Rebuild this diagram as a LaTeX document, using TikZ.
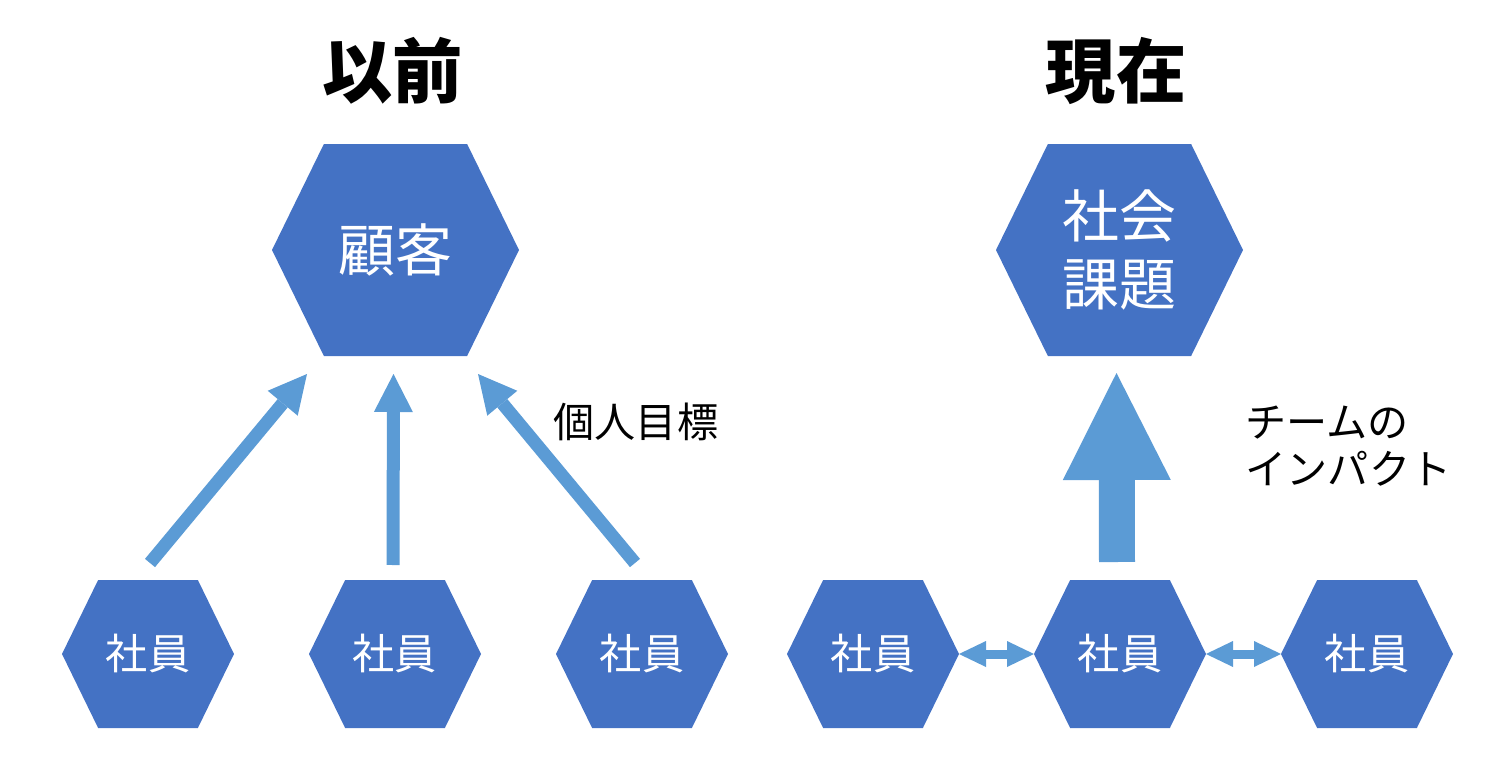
\documentclass[tikz,border=0pt]{standalone}
\usepackage{fontspec}
\setmainfont{Noto Sans CJK JP}
\usetikzlibrary{positioning,arrows.meta,calc}
\definecolor{hexblue}{HTML}{4472C4}
\definecolor{arrowblue}{HTML}{5B9BD5}
\tikzset{
  hexagon/.style={rectangle, inner sep=0pt, outer sep=0pt, text=white, align=center,
    path picture={
      \fill[hexblue] let \p1=(path picture bounding box.south west),
        \p2=(path picture bounding box.north east) in
        (\x1,{(\y1+\y2)/2}) -- ({\x1+0.21*(\x2-\x1)},\y2) -- ({\x1+0.79*(\x2-\x1)},\y2)
        -- (\x2,{(\y1+\y2)/2}) -- ({\x1+0.79*(\x2-\x1)},\y1) -- ({\x1+0.21*(\x2-\x1)},\y1) -- cycle;
    }},
  bighex/.style={hexagon, minimum width=2.47cm, minimum height=2.12cm, font=\fontsize{16.2}{19.4}\selectfont},
  smallhex/.style={hexagon, minimum width=1.72cm, minimum height=1.48cm, font=\fontsize{12}{14}\selectfont},
  title/.style={font=\fontsize{20}{24}\selectfont\bfseries},
  labeltext/.style={font=\fontsize{11.7}{13.4}\selectfont, inner sep=0pt},
  thinarrow/.style={arrowblue, line width=0.13cm, -{Triangle[length=0.38cm,width=0.39cm,line width=0pt]}},
  bigarrow/.style={arrowblue, line width=0.36cm, -{Triangle[length=1.07cm,width=1.08cm,line width=0pt]}},
  linkarrow/.style={arrowblue, line width=0.09cm,
    {Triangle[length=0.27cm,width=0.26cm,line width=0pt]}-{Triangle[length=0.27cm,width=0.26cm,line width=0pt]}}
}
\begin{document}
\begin{tikzpicture}[node distance=0.75cm]
    \useasboundingbox (0,0) rectangle (15,7.67);
    % before
    \node[title] (before) at (3.93,6.96) {以前};
    \node[bighex] (kokyaku) at (3.955,5.17) {顧客};
    \node[smallhex] (e2) at (3.95,1.13) {社員};
    \node[smallhex, left=of e2] (e1) {社員};
    \node[smallhex, right=of e2] (e3) {社員};
    \draw[thinarrow] ($(e1.north)+(0.02,0.17)$) -- ($(kokyaku.south)+(-0.885,-0.18)$);
    \draw[thinarrow] ($(e2.north)+(-0.02,0.15)$) -- ($(kokyaku.south)+(-0.02,-0.18)$);
    \draw[thinarrow] ($(e3.north)+(-0.07,0.17)$) -- ($(kokyaku.south)+(0.825,-0.18)$);
    \node[labeltext, anchor=west] (goal) at (5.53,3.45) {個人目標};
    % now
    \node[title] (now) at (11.16,6.96) {現在};
    \node[bighex] (shakai) at (11.195,5.17) {社会\\課題};
    \node[smallhex] (e5) at (11.20,1.13) {社員};
    \node[smallhex, left=of e5] (e4) {社員};
    \node[smallhex, right=of e5] (e6) {社員};
    \draw[bigarrow] ($(e5.north)+(-0.03,0.18)$) -- ($(shakai.south)+(-0.03,-0.17)$);
    \draw[linkarrow] (e4) -- (e5);
    \draw[linkarrow] (e5) -- (e6);
    \node[labeltext, anchor=west, align=left] (impact) at (12.45,3.21) {チームの\\インパクト};
\end{tikzpicture}
\end{document}
